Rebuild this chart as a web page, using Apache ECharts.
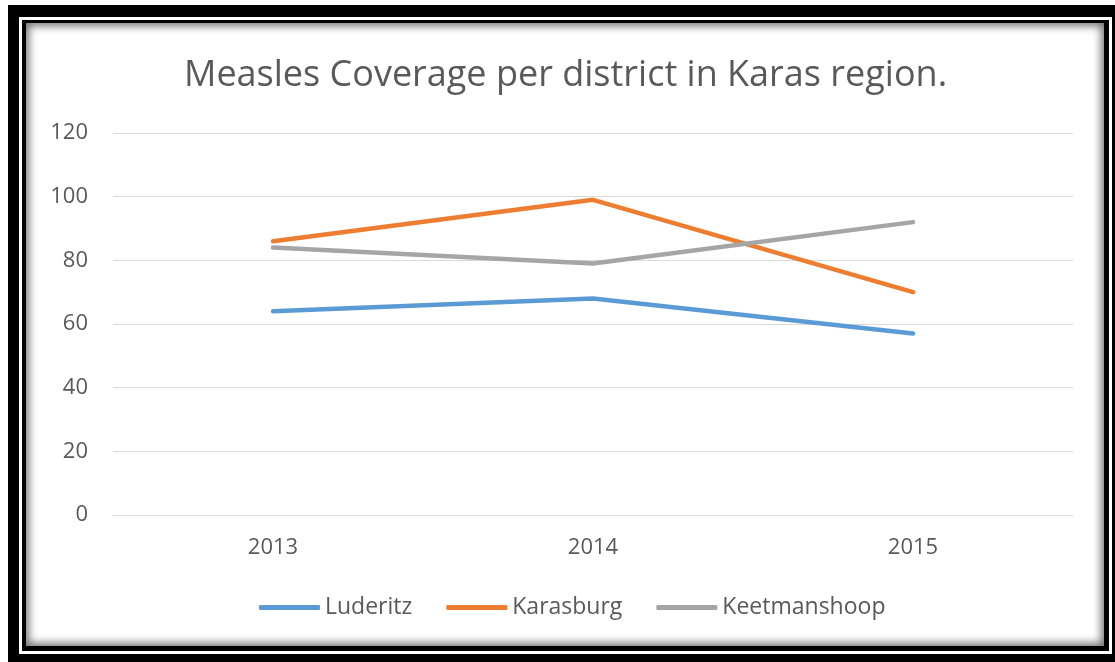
<!DOCTYPE html>
<html>
<head>
<meta charset="utf-8">
<title>Measles Coverage per district in Karas region.</title>
<script src="https://cdn.jsdelivr.net/npm/echarts@6/dist/echarts.min.js"></script>
<style>
  html, body { margin: 0; padding: 0; background: #ffffff; width: 1115px; height: 662px; overflow: hidden; }
  .frame { position: absolute; }
  #outer { left: 8px; top: 5px; width: 1107px; height: 657px; background: #000; }
  #ring  { left: 19px; top: 17px; width: 1093px; height: 637px; background: #fff; }
  #inner { left: 22px; top: 20px; width: 1087px; height: 631px; background: #000; }
  #panel { left: 26px; top: 23px; width: 1078px; height: 623px; background: #fff;
           box-shadow: inset 0 0 9px 3px rgba(0,0,0,0.55); }
  #chart { position: absolute; left: 0; top: 0; width: 1115px; height: 662px; }
</style>
</head>
<body>
<div class="frame" id="outer"></div>
<div class="frame" id="ring"></div>
<div class="frame" id="inner"></div>
<div class="frame" id="panel"></div>
<div id="chart"></div>
<script>
// Measles coverage (%) per district, Karas region
const years = ['2013', '2014', '2015'];
const luderitz = [64, 68, 57];
const karasburg = [86, 99, 70];
const keetmanshoop = [84, 79, 92];
const yTicks = { min: 0, max: 120, step: 20 };

const FONT = '"Open Sans", sans-serif';
const TEXT = '#595959';

const chart = echarts.init(document.getElementById('chart'), null, { renderer: 'canvas' });

function lineSeries(name, data, color) {
  return {
    name: name,
    type: 'line',
    data: data,
    symbol: 'none',
    smooth: false,
    lineStyle: { color: color, width: 4.5, cap: 'round', join: 'round' },
    itemStyle: { color: color }
  };
}

chart.setOption({
  backgroundColor: 'transparent',
  animation: false,
  title: {
    text: 'Measles Coverage per district in Karas region.',
    left: 184,
    top: 58,
    padding: 0,
    textStyle: { fontFamily: FONT, fontSize: 36, fontWeight: 'normal', color: TEXT }
  },
  grid: { left: 113, right: 42, top: 133, bottom: 147, containLabel: false },
  xAxis: {
    type: 'category',
    data: years,
    boundaryGap: true,
    axisLine: { show: true, lineStyle: { color: '#D9D9D9', width: 1 } },
    axisTick: { show: false },
    axisLabel: { fontFamily: FONT, fontSize: 22, color: TEXT, margin: 22 }
  },
  yAxis: {
    type: 'value',
    min: yTicks.min,
    max: yTicks.max,
    interval: yTicks.step,
    axisLine: { show: false },
    axisTick: { show: false },
    splitLine: { lineStyle: { color: '#D9D9D9', width: 1 } },
    axisLabel: { fontFamily: FONT, fontSize: 22, color: TEXT, margin: 25 }
  },
  legend: {
    left: 254,
    top: 591,
    icon: 'roundRect',
    itemWidth: 61,
    itemHeight: 5,
    itemGap: 34,
    textStyle: { fontFamily: FONT, fontSize: 23, color: TEXT },
    data: ['Luderitz', 'Karasburg', 'Keetmanshoop']
  },
  series: [
    lineSeries('Luderitz', luderitz, '#5B9BD5'),
    lineSeries('Karasburg', karasburg, '#ED7D31'),
    lineSeries('Keetmanshoop', keetmanshoop, '#A5A5A5')
  ]
});
</script>
</body>
</html>
